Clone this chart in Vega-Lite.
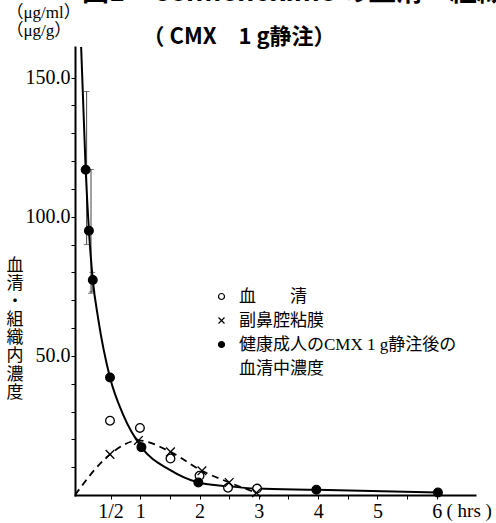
{
  "$schema": "https://vega.github.io/schema/vega-lite/v6.json",
  "width": 400,
  "height": 448,
  "autosize": "none",
  "padding": {"left": 75, "top": 47, "right": 21, "bottom": 28},
  "background": "white",
  "title": {
    "text": "図1　Cefmenoxime の血清・組織内濃度",
    "subtitle": "\u200b\u3000\u3000\u2002\u2005（ CMX\u30001 g静注）",
    "anchor": "start",
    "frame": "group",
    "align": "left",
    "dx": 7,
    "offset": -46,
    "font": "Noto Sans CJK JP",
    "fontSize": 27,
    "fontWeight": "bold",
    "color": "black",
    "subtitleFont": "Noto Sans CJK JP",
    "subtitleFontSize": 22,
    "subtitleFontWeight": "bold",
    "subtitleColor": "black",
    "subtitlePadding": 20
  },
  "datasets": {
    "pts": [
      {"t": 0.49, "v": 26.7, "s": "serum"},
      {"t": 0.995, "v": 24.1, "s": "serum"},
      {"t": 1.51, "v": 13.1, "s": "serum"},
      {"t": 2.0, "v": 6.9, "s": "serum"},
      {"t": 2.48, "v": 2.6, "s": "serum"},
      {"t": 2.97, "v": 2.3, "s": "serum"},
      {"t": 0.49, "v": 14.6, "s": "mucosa"},
      {"t": 0.97, "v": 19.6, "s": "mucosa"},
      {"t": 1.51, "v": 15.5, "s": "mucosa"},
      {"t": 2.04, "v": 8.7, "s": "mucosa"},
      {"t": 2.5, "v": 4.5, "s": "mucosa"},
      {"t": 2.96, "v": 0.8, "s": "mucosa"},
      {"t": 0.08, "v": 116.9, "s": "healthy"},
      {"t": 0.135, "v": 95.0, "s": "healthy"},
      {"t": 0.2, "v": 77.3, "s": "healthy"},
      {"t": 0.49, "v": 42.2, "s": "healthy"},
      {"t": 1.02, "v": 17.2, "s": "healthy"},
      {"t": 1.98, "v": 4.5, "s": "healthy"},
      {"t": 3.97, "v": 1.9, "s": "healthy"},
      {"t": 6.02, "v": 0.9, "s": "healthy"}
    ],
    "solid": [
      {"t": 0.0, "v": 163},
      {"t": 0.08, "v": 116.9},
      {"t": 0.135, "v": 95.0},
      {"t": 0.2, "v": 77.3},
      {"t": 0.29, "v": 63.5},
      {"t": 0.49, "v": 42.2},
      {"t": 0.713, "v": 28.8},
      {"t": 1.02, "v": 17.2},
      {"t": 1.5, "v": 9.0},
      {"t": 1.98, "v": 4.5},
      {"t": 2.5, "v": 3.1},
      {"t": 2.97, "v": 2.3},
      {"t": 3.97, "v": 1.9},
      {"t": 6.02, "v": 0.9}
    ],
    "dashed": [
      {"t": -0.1, "v": 0},
      {"t": 0.49, "v": 14.6},
      {"t": 0.97, "v": 19.6},
      {"t": 1.51, "v": 15.5},
      {"t": 2.04, "v": 8.7},
      {"t": 2.5, "v": 4.5},
      {"t": 2.96, "v": 0.8}
    ],
    "err": [
      {"t": 0.096, "v": 90, "v2": 145},
      {"t": 0.17, "v": 72.5, "v2": 117},
      {"t": 0.19, "v": 73, "v2": 80}
    ]
  },
  "encoding": {
    "x": {
      "field": "t", "type": "quantitative",
      "scale": {"domain": [-0.1, 6.645], "nice": false, "zero": false},
      "axis": {
        "values": [0.5, 1, 1.5, 2, 2.5, 3, 3.5, 4, 4.5, 5, 5.5, 6],
        "labelExpr": "datum.value == 0.5 ? '1/2' : (datum.value % 1 == 0 ? format(datum.value, 'd') : '\u200b')",
        "labelOverlap": false,
        "grid": false,
        "tickSize": 4,
        "tickColor": "black",
        "domainColor": "black",
        "domainWidth": 2,
        "labelFont": "Liberation Serif",
        "labelFontSize": 20,
        "labelColor": "black",
        "labelPadding": 2,
        "title": "( hrs )",
        "titleFont": "Liberation Serif",
        "titleFontSize": 19,
        "titleFontWeight": "normal",
        "titleColor": "black",
        "titleAnchor": "start",
        "titleAlign": "left",
        "titleBaseline": "middle",
        "titleX": 371,
        "titleY": 15
      }
    },
    "y": {
      "field": "v", "type": "quantitative",
      "scale": {"domain": [0, 161], "nice": false},
      "axis": {
        "values": [10, 20, 30, 40, 50, 60, 70, 80, 90, 100, 110, 120, 130, 140, 150],
        "labelExpr": "datum.value % 50 == 0 ? format(datum.value, '.1f') : '\u200b'",
        "labelOverlap": false,
        "grid": false,
        "tickSize": 4,
        "tickColor": "black",
        "domainColor": "black",
        "domainWidth": 2,
        "labelFont": "Liberation Serif",
        "labelFontSize": 20,
        "labelColor": "black",
        "labelPadding": 1,
        "title": ["（μg/ml）", "（μg/g）", "\u200b", "\u200b", "\u200b", "\u200b", "\u200b", "\u200b", "\u200b", "\u200b", "\u200b", "\u200b", "\u200b", "\u200b", "血", "清", "・", "組", "織", "内", "濃", "度"],
        "titleFont": "Liberation Serif, Noto Sans CJK JP",
        "titleFontSize": 17,
        "titleFontWeight": "normal",
        "titleColor": "black",
        "titleAngle": 0,
        "titleAlign": "left",
        "titleBaseline": "top",
        "titleLineHeight": 18.1,
        "titleX": -69,
        "titleY": -43
      }
    }
  },
  "layer": [
    {
      "data": {"name": "err"},
      "mark": {"type": "rule", "stroke": "#444", "strokeWidth": 1},
      "encoding": {
        "y2": {"field": "v2"}
      }
    },
    {
      "data": {"name": "err"},
      "transform": [{"fold": ["v", "v2"], "as": ["k", "v"]}],
      "mark": {"type": "tick", "orient": "horizontal", "size": 6, "thickness": 1, "color": "#444"},
      "encoding": {}
    },
    {
      "data": {"name": "solid"},
      "mark": {"type": "line", "interpolate": "monotone", "stroke": "black", "strokeWidth": 2, "clip": true},
      "encoding": {}
    },
    {
      "data": {"name": "dashed"},
      "mark": {"type": "line", "interpolate": "monotone", "stroke": "black", "strokeWidth": 1.8, "strokeDash": [7, 5], "clip": true},
      "encoding": {}
    },
    {
      "data": {"name": "pts"},
      "mark": {"type": "point", "filled": true, "strokeWidth": 1.3, "size": 75, "opacity": 1},
      "encoding": {
        "shape": {
          "field": "s", "type": "nominal",
          "scale": {
            "domain": ["serum", "mucosa", "healthy", "healthy2"],
            "range": ["circle", "M-1,-1L1,1M1,-1L-1,1", "circle", "M0,0"]
          },
          "legend": {
            "orient": "none",
            "legendX": 138,
            "legendY": 241,
            "title": null,
            "padding": 0,
            "rowPadding": 6,
            "labelOffset": 9,
            "labelLimit": 400,
            "labelFont": "Liberation Serif, Noto Sans CJK JP",
            "labelFontSize": 17,
            "labelColor": "black",
            "symbolSize": 36,
            "symbolStrokeWidth": 1.2,
            "labelExpr": "datum.value == 'serum' ? '血\u3000\u3000清' : datum.value == 'mucosa' ? '副鼻腔粘膜' : datum.value == 'healthy' ? '健康成人のCMX 1 g静注後の' : '血清中濃度'"
          }
        },
        "fill": {
          "field": "s", "type": "nominal",
          "scale": {
            "domain": ["serum", "mucosa", "healthy", "healthy2"],
            "range": ["white", "black", "black", "white"]
          },
          "legend": {
            "orient": "none",
            "legendX": 138,
            "legendY": 241,
            "title": null,
            "padding": 0,
            "rowPadding": 6,
            "labelOffset": 9,
            "labelLimit": 400,
            "labelFont": "Liberation Serif, Noto Sans CJK JP",
            "labelFontSize": 17,
            "labelColor": "black",
            "symbolSize": 36,
            "symbolStrokeWidth": 1.2,
            "labelExpr": "datum.value == 'serum' ? '血\u3000\u3000清' : datum.value == 'mucosa' ? '副鼻腔粘膜' : datum.value == 'healthy' ? '健康成人のCMX 1 g静注後の' : '血清中濃度'"
          }
        },
        "stroke": {
          "field": "s", "type": "nominal",
          "scale": {
            "domain": ["serum", "mucosa", "healthy", "healthy2"],
            "range": ["black", "black", "black", "white"]
          },
          "legend": {
            "orient": "none",
            "legendX": 138,
            "legendY": 241,
            "title": null,
            "padding": 0,
            "rowPadding": 6,
            "labelOffset": 9,
            "labelLimit": 400,
            "labelFont": "Liberation Serif, Noto Sans CJK JP",
            "labelFontSize": 17,
            "labelColor": "black",
            "symbolSize": 36,
            "symbolStrokeWidth": 1.2,
            "labelExpr": "datum.value == 'serum' ? '血\u3000\u3000清' : datum.value == 'mucosa' ? '副鼻腔粘膜' : datum.value == 'healthy' ? '健康成人のCMX 1 g静注後の' : '血清中濃度'"
          }
        }
      }
    }
  ],
  "config": {
    "view": {"stroke": null},
    "axis": {"domainCap": "square", "labelOverlap": false}
  }
}
